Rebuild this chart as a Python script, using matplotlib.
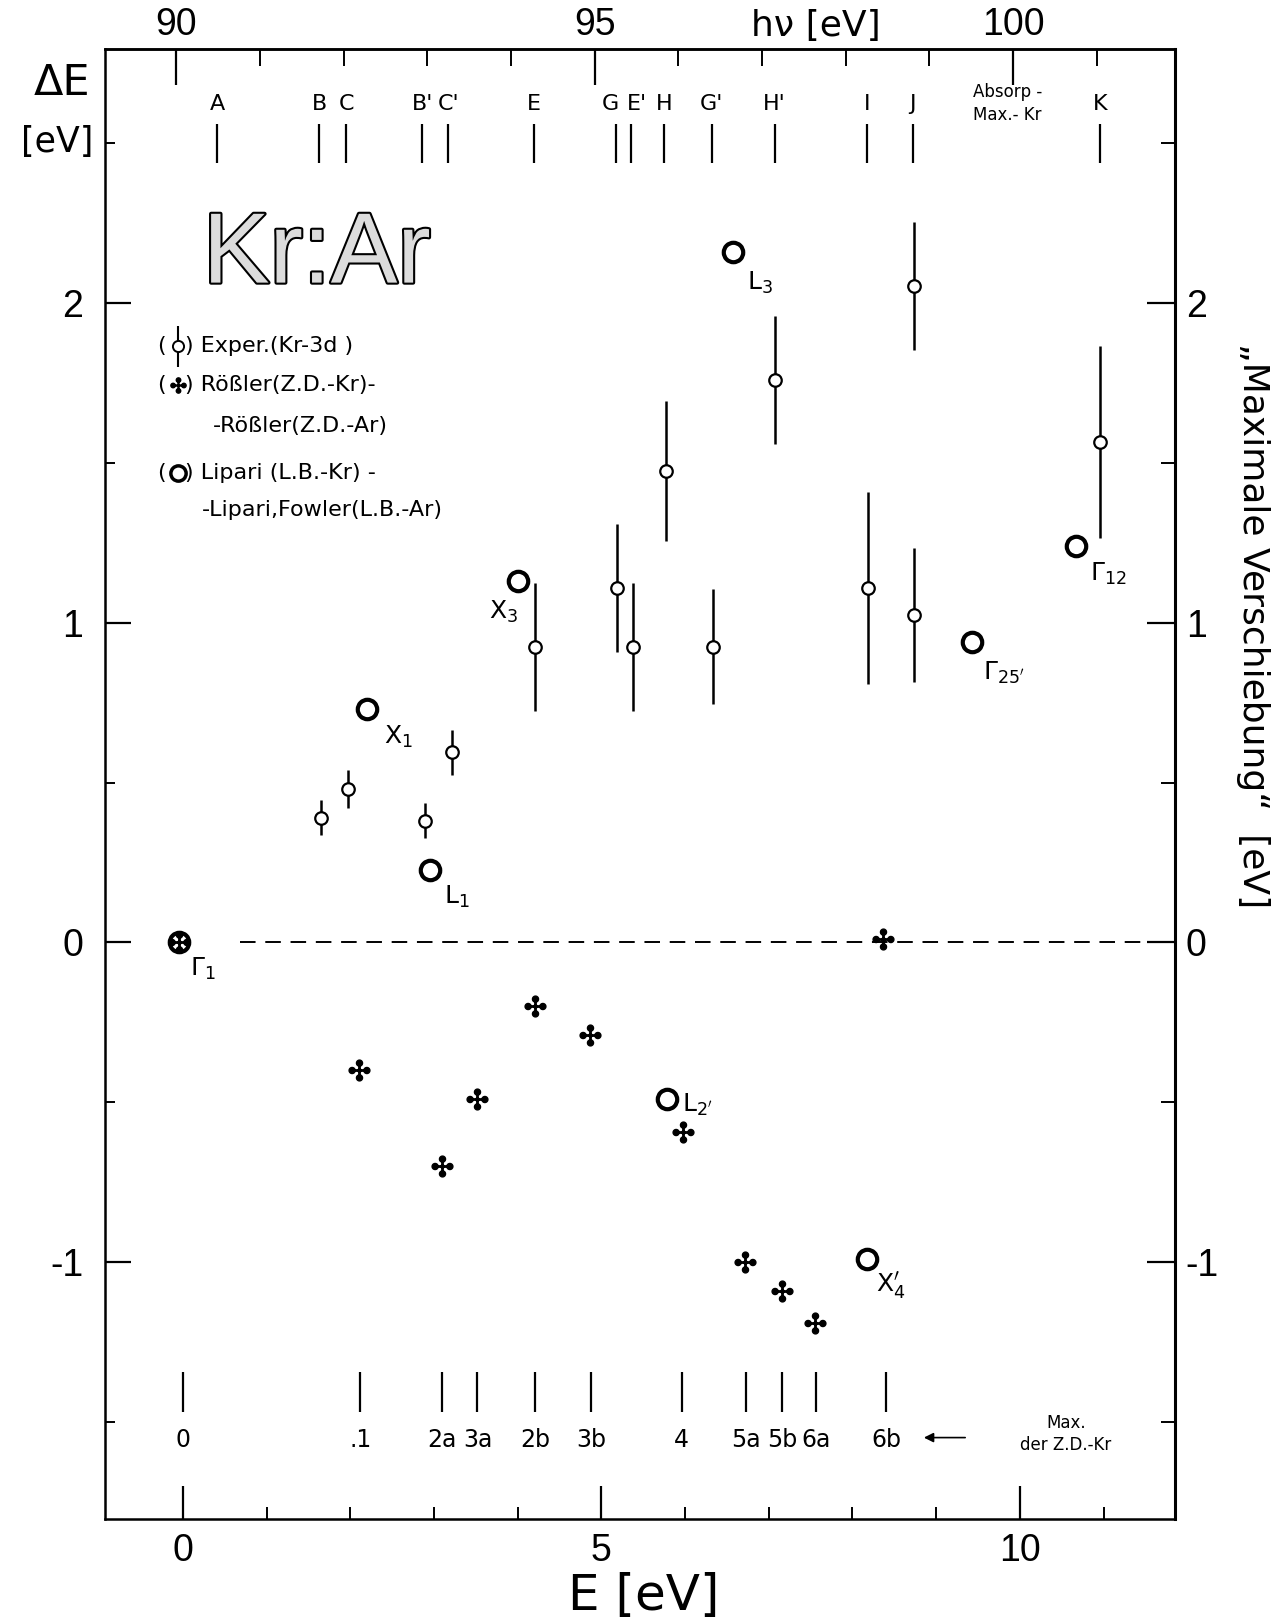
import matplotlib
matplotlib.use('Agg')
import matplotlib.pyplot as plt
import matplotlib.patheffects as pe
from matplotlib.ticker import MultipleLocator

# ---- Daten ----
# Experiment Kr-3d: Lage E, Verschiebung dE, Fehlerbalken
exp_E = [1.65, 1.97, 2.89, 3.21, 4.21, 5.19, 5.38, 5.77, 6.33, 7.07, 8.19, 8.73, 8.73, 10.96]
exp_dE = [0.39, 0.48, 0.38, 0.595, 0.925, 1.11, 0.925, 1.475, 0.925, 1.76, 1.11, 1.025, 2.055, 1.565]
exp_err = [0.055, 0.06, 0.055, 0.07, 0.2, 0.2, 0.2, 0.22, 0.18, 0.2, 0.3, 0.21, 0.2, 0.3]

# Roessler (Z.D.-Kr) - Roessler (Z.D.-Ar)
roe_E = [-0.05, 2.11, 3.10, 3.52, 4.21, 4.86, 5.97, 6.72, 7.16, 7.55, 8.37]
roe_dE = [0.0, -0.40, -0.70, -0.49, -0.20, -0.29, -0.595, -1.0, -1.09, -1.19, 0.01]

# Lipari (L.B.-Kr) - Lipari, Fowler (L.B.-Ar)
lip_names = [r'$\Gamma_1$', r'$\mathrm{X}_1$', r'$\mathrm{L}_1$', r'$\mathrm{X}_3$', r'$\mathrm{L}_3$',
             r"$\mathrm{L}_{2'}$", r'$\mathrm{X}_4^{\prime}$', r"$\Gamma_{25'}$", r'$\Gamma_{12}$']
lip_E = [-0.05, 2.20, 2.95, 4.00, 6.57, 5.78, 8.17, 9.43, 10.67]
lip_dE = [0.0, 0.73, 0.226, 1.13, 2.16, -0.49, -0.99, 0.94, 1.24]

# Strukturen oben (Absorptionsstrukturen)
top_names = ['A', 'B', 'C', "B'", "C'", 'E', 'G', "E'", 'H', "G'", "H'", 'I', 'J', 'K']
top_E = [0.41, 1.63, 1.95, 2.86, 3.17, 4.19, 5.17, 5.36, 5.75, 6.32, 7.07, 8.17, 8.72, 10.96]

# Maxima der Z.D.-Kr unten
zd_names = ['0', '.1', '2a', '3a', '2b', '3b', '4', '5a', '5b', '6a', '6b']
zd_E = [0.0, 2.12, 3.10, 3.52, 4.21, 4.88, 5.96, 6.73, 7.16, 7.57, 8.40]

HV_OFFSET = 90.08          # h*nu = E + Offset
zero_span = (0.68, 11.70)  # gestrichelte Nulllinie

# Label-Versatz der Lipari-Punkte (Punkte)
lip_off = [(8, -19), (12, -20), (10, -19), (0, -22), (10, -22), (11, -4), (7, -19), (8, -22), (10, -20)]
lip_ha = ['left', 'left', 'left', 'right', 'left', 'left', 'left', 'left', 'left']
# kleine Verschiebung der Buchstaben oben, damit G und E' sich nicht ueberdecken
top_dx = [0, 0, 0, 0, 0, 0, -4, 4, 0, 0, 0, 0, 0, 0]

plt.rcParams['font.family'] = ['DejaVu Sans']
plt.rcParams['mathtext.fontset'] = 'dejavusans'

fig = plt.figure(figsize=(12.77, 16.2), dpi=100)
ax = fig.add_axes([0.0825, 0.0625, 0.8374, 0.9075])
ax.set_xlim(-0.926, 11.85)
ax.set_ylim(-1.804, 2.797)
for s in ax.spines.values():
    s.set_linewidth(1.8)

tickfont = 'Liberation Sans'
ax.set_xticks([0, 5, 10])
ax.xaxis.set_minor_locator(MultipleLocator(1))
ax.set_yticks([-1, 0, 1, 2])
ax.yaxis.set_minor_locator(MultipleLocator(0.5))
ax.tick_params(axis='x', which='major', direction='in', length=24, width=1.6, labelsize=27, pad=10)
ax.tick_params(axis='x', which='minor', direction='in', length=9, width=1.4)
ax.tick_params(axis='y', which='major', direction='in', length=19, width=1.6, labelsize=27, pad=16)
ax.tick_params(axis='y', which='minor', direction='in', length=7, width=1.4)
ax.set_yticklabels(['-1', '0', '1', '2'], fontfamily=tickfont)
ax.set_xticklabels(['0', '5', '10'], fontfamily=tickfont)

secx = ax.secondary_xaxis('top', functions=(lambda e: e + HV_OFFSET, lambda h: h - HV_OFFSET))
secx.set_xticks([90, 95, 100])
secx.set_xticklabels(['90', '95', '100'], fontfamily=tickfont)
secx.xaxis.set_minor_locator(MultipleLocator(1))
secx.tick_params(which='major', direction='in', length=26, width=1.6, labelsize=27, pad=4)
secx.tick_params(which='minor', direction='in', length=12, width=1.4)
secx.spines['top'].set_linewidth(1.8)

secy = ax.secondary_yaxis('right')
secy.set_yticks([-1, 0, 1, 2])
secy.set_yticklabels(['-1', '0', '1', '2'], fontfamily=tickfont)
secy.yaxis.set_minor_locator(MultipleLocator(0.5))
secy.tick_params(which='major', direction='in', length=20, width=1.6, labelsize=27, pad=8)
secy.tick_params(which='minor', direction='in', length=10, width=1.4)
secy.spines['right'].set_linewidth(2.2)

# Nulllinie
ax.hlines(0, zero_span[0], zero_span[1], colors='black', linewidth=1.4, linestyles=(0, (8, 5)))

# Experiment
ax.errorbar(exp_E, exp_dE, yerr=exp_err, fmt='o', ms=9, mfc='white', mec='black', mew=1.6,
            ecolor='black', elinewidth=1.8, capsize=0, zorder=4)

# Roessler
ax.plot(roe_E, roe_dE, ls='none', marker='$\u2723$', ms=15, color='black', zorder=3)

# Lipari
ax.plot(lip_E, lip_dE, ls='none', marker='o', ms=14, mfc='none', mec='black', mew=3, zorder=5)
for name, x, y, off, ha in zip(lip_names, lip_E, lip_dE, lip_off, lip_ha):
    ax.annotate(name, (x, y), xytext=off, textcoords='offset points', ha=ha, va='center', fontsize=18)

# Strukturen oben
ax.vlines(top_E, 2.44, 2.56, colors='black', linewidth=1.6)
for name, x, dx in zip(top_names, top_E, top_dx):
    ax.annotate(name, (x, 2.625), xytext=(dx, 0), textcoords='offset points',
                ha='center', va='center', fontsize=16)
ax.text(9.85, 2.625, 'Absorp -\nMax.- Kr', ha='center', va='center', fontsize=12, linespacing=1.4)

# Z.D.-Maxima unten
ax.vlines(zd_E, -1.469, -1.346, colors='black', linewidth=1.6)
for name, x in zip(zd_names, zd_E):
    ax.text(x, -1.557, name, ha='center', va='center', fontsize=17)
ax.annotate('', xy=(8.82, -1.55), xytext=(9.38, -1.55),
            arrowprops=dict(arrowstyle='-|>', color='black', lw=1.2, mutation_scale=14))
ax.text(10.55, -1.54, 'Max.\nder Z.D.-Kr', ha='center', va='center', fontsize=12, linespacing=1.3)

# Titel Kr:Ar
ax.text(1.6, 2.146, 'Kr:Ar', ha='center', va='center', fontsize=72, color='#dcdcdc',
        fontfamily='Liberation Sans',
        path_effects=[pe.withStroke(linewidth=3, foreground='black')])

# Legende
fs = 16
ax.text(-0.25, 1.865, '(', ha='center', va='center', fontsize=fs)
ax.errorbar([-0.06], [1.865], yerr=[0.065], fmt='o', ms=8, mfc='white', mec='black', mew=1.4,
            ecolor='black', elinewidth=1.5, capsize=0)
ax.text(0.03, 1.865, ') Exper.(Kr-3d )', ha='left', va='center', fontsize=fs)
ax.text(-0.25, 1.745, '(', ha='center', va='center', fontsize=fs)
ax.plot([-0.06], [1.745], ls='none', marker='$\u2723$', ms=11, color='black')
ax.text(0.03, 1.745, ') Rößler(Z.D.-Kr)-', ha='left', va='center', fontsize=fs)
ax.text(0.36, 1.615, '-Rößler(Z.D.-Ar)', ha='left', va='center', fontsize=fs)
ax.text(-0.25, 1.47, '(', ha='center', va='center', fontsize=fs)
ax.plot([-0.06], [1.47], ls='none', marker='o', ms=11, mfc='none', mec='black', mew=2.5)
ax.text(0.03, 1.47, ') Lipari (L.B.-Kr) -', ha='left', va='center', fontsize=fs)
ax.text(0.23, 1.353, '-Lipari,Fowler(L.B.-Ar)', ha='left', va='center', fontsize=fs)

# Achsenbeschriftungen
fig.text(0.0485, 0.949, 'ΔE', ha='center', va='center', fontsize=31)
fig.text(0.045, 0.9126, '[eV]', ha='center', va='center', fontsize=25)
fig.text(0.639, 0.984, 'hν [eV]', ha='center', va='center', fontsize=26)
fig.text(0.504, 0.0147, 'E [eV]', ha='center', va='center', fontsize=36)
fig.text(0.981, 0.614, '„Maximale Verschiebung“  [eV]', ha='center', va='center',
         rotation=270, fontsize=26)

fig.savefig('out.png', dpi=100)
